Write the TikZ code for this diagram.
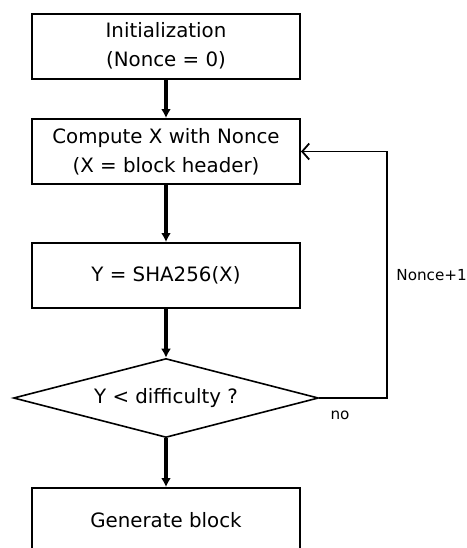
\documentclass[tikz,border=0pt]{standalone}
\usepackage{fontspec}
\setmainfont{DejaVu Sans}
\usetikzlibrary{shapes.geometric,arrows.meta}
\begin{document}
\begin{tikzpicture}[x=0.5pt,y=-0.5pt,
  every node/.style={font=\fontsize{9.9}{14.5}\selectfont, text=black},
  procbox/.style={draw, line width=1pt, minimum width=134pt, minimum height=32.5pt, align=center, inner sep=0pt},
  decbox/.style={draw, diamond, line width=0.8pt, minimum width=152.5pt, minimum height=39.5pt, inner sep=0pt, aspect=3.86},
  flow/.style={line width=1.6pt, -{Latex[length=4.5pt,width=5pt]}},
  fb/.style={line width=0.9pt, -{Straight Barb[length=3.5pt,width=8pt]}},
  lbl/.style={inner sep=0pt, font=\fontsize{7.6}{9}\selectfont}
]
\useasboundingbox (0,0) rectangle (467,548);
\begin{scope}
\clip (0,0) rectangle (467,548);
\node[procbox] (init) at (166,46) {Initialization\\(Nonce = 0)};
\node[procbox] (comp) at (166,151.5) {Compute X with Nonce\\(X = block header)};
\node[procbox] (sha) at (166,275.5) {Y = SHA256(X)};
\node[decbox] (dia) at (166,398) {Y < difficulty ?};
\node[procbox] (gen) at (166,520.5) {Generate block};
\end{scope}
\draw[flow] (init) -- (comp);
\draw[flow] (comp) -- (sha);
\draw[flow] (sha) -- (dia);
\draw[flow] (dia) -- (gen);
\coordinate (c1) at (387,398);
\coordinate (c2) at (387,151.5);
\draw[fb] (dia.east) -- (c1) -- (c2) -- (comp.east);
\node[lbl, anchor=west] (nonce) at (396,275) {Nonce+1};
\node[lbl] (no) at (340,415) {no};
\end{tikzpicture}
\end{document}
